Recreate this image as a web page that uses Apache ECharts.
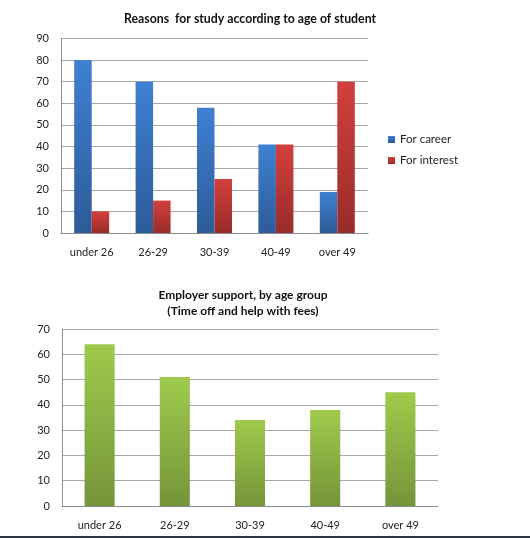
<!DOCTYPE html>
<html>
<head>
<meta charset="utf-8">
<script src="https://cdn.jsdelivr.net/npm/echarts@6/dist/echarts.min.js"></script>
<style>
  html, body { margin: 0; padding: 0; background: #fff; }
  #chart { width: 530px; height: 538px; }
</style>
</head>
<body>
<div id="chart"></div>
<script>
// data
const ageGroups = ['under 26', '26-29', '30-39', '40-49', 'over 49']
const forCareer = [80, 70, 58, 41, 19]
const forInterest = [10, 15, 25, 41, 70]
const employerSupport = [64, 51, 34, 38, 45]
const reasonsTicks = { min: 0, max: 90, interval: 10 }
const supportTicks = { min: 0, max: 70, interval: 10 }

const font = 'Lato, "Liberation Sans", sans-serif'

function grad (top, bottom) {
  return new echarts.graphic.LinearGradient(0, 0, 0, 1, [
    { offset: 0, color: top },
    { offset: 1, color: bottom }
  ])
}

const catAxis = (gridIndex) => ({
  type: 'category',
  gridIndex: gridIndex,
  data: ageGroups,
  axisTick: { show: false },
  axisLine: { lineStyle: { color: '#8c8c8c', width: 1 } },
  axisLabel: { color: '#222', fontSize: 11, fontFamily: font, margin: 14 }
})

const valAxis = (gridIndex, ticks) => ({
  type: 'value',
  gridIndex: gridIndex,
  min: ticks.min,
  max: ticks.max,
  interval: ticks.interval,
  axisLine: { show: true, lineStyle: { color: '#8c8c8c', width: 1 } },
  axisTick: { show: false },
  splitLine: { lineStyle: { color: '#a6a6a6', width: 1 } },
  axisLabel: { color: '#222', fontSize: 11, fontFamily: font, margin: 12 }
})

const chart = echarts.init(document.getElementById('chart'), null, { renderer: 'canvas' })

const option = {
  backgroundColor: '#fff',
  animation: false,
  title: [
    {
      text: 'Reasons  for study according to age of student',
      left: 245, top: 8, textAlign: 'center',
      textStyle: { fontSize: 12.3, fontWeight: 'bold', color: '#111', fontFamily: font }
    },
    {
      text: 'Employer support, by age group\n(Time off and help with fees)',
      left: 238, top: 282, textAlign: 'center',
      textStyle: { fontSize: 12, fontWeight: 'bold', color: '#111', fontFamily: font, lineHeight: 16 }
    }
  ],
  legend: {
    data: ['For career', 'For interest'],
    orient: 'vertical',
    left: 383,
    top: 128,
    icon: 'rect',
    itemWidth: 7,
    itemHeight: 7,
    itemGap: 8,
    textStyle: { color: '#222', fontSize: 11.5, fontFamily: font, lineHeight: 13 }
  },
  grid: [
    { left: 61, right: 162, top: 38.5, bottom: 305 },
    { left: 62, right: 92, top: 329, bottom: 32 }
  ],
  xAxis: [catAxis(0), catAxis(1)],
  yAxis: [valAxis(0, reasonsTicks), valAxis(1, supportTicks)],
  series: [
    {
      name: 'For career',
      type: 'bar',
      xAxisIndex: 0, yAxisIndex: 0,
      data: forCareer,
      barGap: '0%',
      barCategoryGap: '43%',
      itemStyle: { color: grad('#3f80d2', '#2d5b98') }
    },
    {
      name: 'For interest',
      type: 'bar',
      xAxisIndex: 0, yAxisIndex: 0,
      data: forInterest,
      itemStyle: { color: grad('#d2403d', '#982c29') }
    },
    {
      name: 'Employer support',
      type: 'bar',
      xAxisIndex: 1, yAxisIndex: 1,
      data: employerSupport,
      barCategoryGap: '60%',
      itemStyle: { color: grad('#9fca4c', '#75953a') }
    }
  ],
  graphic: [
    {
      type: 'rect',
      shape: { x: 0, y: 536, width: 530, height: 2 },
      style: { fill: '#2b3540' },
      silent: true
    }
  ]
}

chart.setOption(option)
</script>
</body>
</html>
